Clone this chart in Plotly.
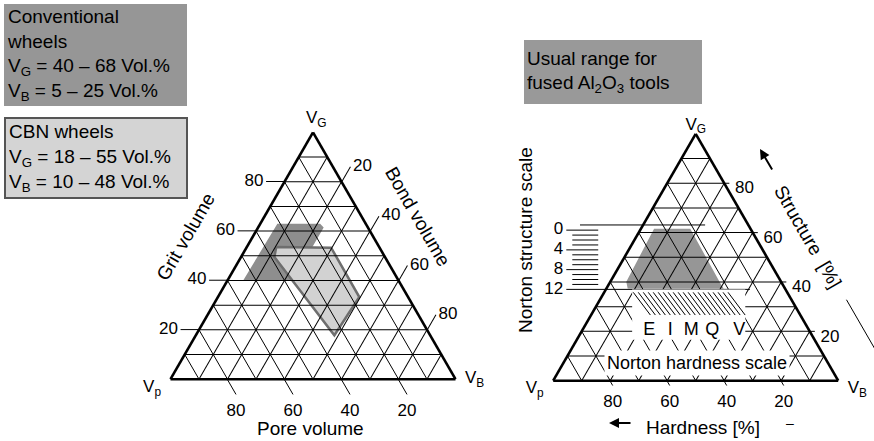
import math
import plotly.graph_objects as go

FIG_W, FIG_H = 874, 441
FONT = "Liberation Sans, Arial, Helvetica, sans-serif"

# ---------------- data ----------------
GRID_VALUES = [10, 20, 30, 40, 50, 60, 70, 80, 90]
TICK_VALUES = [20, 40, 60, 80]

# left diagram: grit (V_G, top), pore (V_p, bottom-left), bond (V_B, bottom-right), vol.%
CONV_GRIT = [63, 63, 61.5, 55, 40, 40]          # conventional wheels region
CONV_BOND = [6, 21, 23, 23, 23, 5.5]
CBN_GRIT = [53.6, 53.3, 33.3, 17.8, 49.5]        # CBN wheels region
CBN_BOND = [10.3, 29.7, 49.6, 48.6, 11.7]

# right diagram: usual range for fused Al2O3 tools
ALO_GRIT = [61.6, 61.6, 39.7, 37.3, 37.3, 40.1]
ALO_BOND = [4.6, 17.3, 38.7, 41.2, 7.5, 5.6]

# Norton structure scale (structure number -> grit vol.%)
NORTON_STRUCT = [0, 1, 2, 3, 4, 5, 6, 7, 8, 9, 10, 11, 12]
NORTON_STRUCT_GRIT = [61, 59, 57, 55, 53, 51, 49, 47, 45, 43, 41, 39, 37]
NORTON_STRUCT_LABELED = [0, 4, 8, 12]

# Norton hardness scale letters (position along base in %, at grit level)
HARD_LETTERS = ["E", "I", "M", "Q", "V"]
HARD_POS = [33.7, 41.1, 48.4, 55.8, 65.3]
HARD_GRIT = 20.3

# ---------------- geometry ----------------
SQ3_2 = math.sqrt(3) / 2
L_X0, L_X1, L_YB = 170.5, 455.5, 379.2
R_X0, R_X1, R_YB = 553.2, 838.2, 380.7


def tri_domain(x0, x1, yb):
    h = (x1 - x0) * SQ3_2
    return dict(x=[x0 / FIG_W, x1 / FIG_W],
                y=[(FIG_H - yb) / FIG_H, (FIG_H - yb + h) / FIG_H])


def P(x, y):
    return x / FIG_W, 1 - y / FIG_H


def ak_to_abc(a_list, k_list):
    """grit value a and horizontal position k (percent of base) -> a, b, c"""
    a_out, b_out, c_out = [], [], []
    for a, k in zip(a_list, k_list):
        if a is None:
            a_out.append(None); b_out.append(None); c_out.append(None)
            continue
        c = k - a / 2
        a_out.append(a); c_out.append(c); b_out.append(100 - a - c)
    return a_out, b_out, c_out


def close(lst):
    return list(lst) + [lst[0]]


LD = tri_domain(L_X0, L_X1, L_YB)
RD = tri_domain(R_X0, R_X1, R_YB)


def ax_off():
    return dict(showline=False, showgrid=False, showticklabels=False, ticks="",
                title=dict(text=""))


def ax_grid():
    return dict(showline=True, linecolor="black", linewidth=2.6,
                showgrid=True, gridcolor="black", gridwidth=1,
                tickvals=GRID_VALUES, showticklabels=False, ticks="",
                title=dict(text=""))


def ax_ticks(ticklen):
    return dict(showline=False, showgrid=False, tickvals=TICK_VALUES,
                ticktext=[str(v) for v in TICK_VALUES], ticks="outside",
                ticklen=ticklen, tickwidth=1, tickcolor="black",
                tickfont=dict(family=FONT, size=17, color="black"),
                title=dict(text=""))


traces = []

# ---- left: regions ----
traces.append(go.Scatterternary(
    subplot="ternary", a=close(CONV_GRIT),
    b=close([100 - g - v for g, v in zip(CONV_GRIT, CONV_BOND)]), c=close(CONV_BOND),
    mode="lines", fill="toself", fillcolor="#8e8e8e", line=dict(width=0, color="#8e8e8e"),
    hoverinfo="skip"))
traces.append(go.Scatterternary(
    subplot="ternary", a=close(CBN_GRIT),
    b=close([100 - g - v for g, v in zip(CBN_GRIT, CBN_BOND)]), c=close(CBN_BOND),
    mode="lines", fill="toself", fillcolor="#d2d2d2", line=dict(width=2.5, color="#6e6e6e"),
    hoverinfo="skip"))

# ---- left: corner labels (grid layer) ----
corner_font = dict(family=FONT, size=17, color="black")
traces.append(go.Scatterternary(subplot="ternary2", a=[0], b=[100], c=[0], mode="text",
                                text=["V<sub>p</sub>  "], textposition="bottom left",
                                textfont=corner_font, cliponaxis=False, hoverinfo="skip"))
traces.append(go.Scatterternary(subplot="ternary2", a=[0], b=[0], c=[100], mode="text",
                                text=["  V<sub>B</sub>"], textposition="middle right",
                                textfont=corner_font, cliponaxis=False, hoverinfo="skip"))

# ---- right: region ----
traces.append(go.Scatterternary(
    subplot="ternary3", a=close(ALO_GRIT),
    b=close([100 - g - v for g, v in zip(ALO_GRIT, ALO_BOND)]), c=close(ALO_BOND),
    mode="lines", fill="toself", fillcolor="#969696", line=dict(width=0, color="#969696"),
    hoverinfo="skip"))

# ---- right: corner labels ----
traces.append(go.Scatterternary(subplot="ternary4", a=[100], b=[0], c=[0], mode="text",
                                text=["V<sub>G</sub>"], textposition="top center",
                                textfont=corner_font, cliponaxis=False, hoverinfo="skip"))
traces.append(go.Scatterternary(subplot="ternary4", a=[0], b=[100], c=[0], mode="text",
                                text=["V<sub>p</sub>  "], textposition="bottom left",
                                textfont=corner_font, cliponaxis=False, hoverinfo="skip"))
traces.append(go.Scatterternary(subplot="ternary4", a=[0], b=[0], c=[100], mode="text",
                                text=["  V<sub>B</sub>"], textposition="bottom right",
                                textfont=corner_font, cliponaxis=False, hoverinfo="skip"))

# ---- right: mask, hatching, hardness letters (top layer) ----
MASK_GRIT = [36.9, 36.9, 16.6, 16.6]
MASK_POS = [27.7, 67.4, 67.4, 27.7]
ma, mb, mc = ak_to_abc(close(MASK_GRIT), close(MASK_POS))
traces.append(go.Scatterternary(subplot="ternary5", a=ma, b=mb, c=mc, mode="lines",
                                fill="toself", fillcolor="white",
                                line=dict(width=0, color="white"), hoverinfo="skip"))

HATCH_TOP, HATCH_BOT = 35.8, 26.6
HATCH_START, HATCH_STEP, HATCH_N, HATCH_SLANT = 28.1, 1.75, 20, 6.0
ha, hk = [], []
for i in range(HATCH_N):
    k0 = HATCH_START + HATCH_STEP * i
    ha += [HATCH_TOP, HATCH_BOT, None]
    hk += [k0, k0 + HATCH_SLANT, None]
ha2, hb2, hc2 = ak_to_abc(ha, hk)
traces.append(go.Scatterternary(subplot="ternary5", a=ha2, b=hb2, c=hc2, mode="lines",
                                line=dict(width=1, color="black"), connectgaps=False,
                                hoverinfo="skip"))
la, lb, lc = ak_to_abc([HARD_GRIT] * len(HARD_POS), HARD_POS)
traces.append(go.Scatterternary(subplot="ternary5", a=la, b=lb, c=lc, mode="text",
                                text=HARD_LETTERS, textposition="middle center",
                                textfont=dict(family=FONT, size=18, color="black"),
                                cliponaxis=False, hoverinfo="skip"))

# ---- right: marks outside the triangle, on a cartesian (position k, grit a) frame ----
R_W = R_X1 - R_X0
R_H = R_W * SQ3_2
K_RANGE = [(0 - R_X0) / R_W * 100, (FIG_W - R_X0) / R_W * 100]
A_RANGE = [(R_YB - FIG_H) / R_H * 100, (R_YB - 0) / R_H * 100]

cx, cy = [], []
for n, g in zip(NORTON_STRUCT, NORTON_STRUCT_GRIT):
    k_left = 4.6 if n in NORTON_STRUCT_LABELED else 6.7
    k_right = 69.0 if n == 12 else 15.8
    cx += [k_left, k_right, None]
    cy += [g, g, None]
# top reference line of the structure scale
cx += [9.4, 53.3, None]
cy += [63.1, 63.1, None]
# short ticks on the right edge (grit)
for v in TICK_VALUES:
    cx += [100 - v / 2, 100 - v / 2 + 1.8, None]
    cy += [v, v, None]
# structure direction line beyond the right edge
cx += [119.3 - 32.8 / 2, 119.3 - 5 / 2, None]
cy += [32.8, 5, None]
traces.append(go.Scatter(x=cx, y=cy, mode="lines", line=dict(color="black", width=1),
                         xaxis="x", yaxis="y", hoverinfo="skip", connectgaps=False))

traces.append(go.Scatter(
    x=[3.5] * len(NORTON_STRUCT_LABELED),
    y=[NORTON_STRUCT_GRIT[NORTON_STRUCT.index(n)] for n in NORTON_STRUCT_LABELED],
    mode="text", text=[str(n) for n in NORTON_STRUCT_LABELED], textposition="middle left",
    textfont=dict(family=FONT, size=17, color="black"), xaxis="x", yaxis="y",
    hoverinfo="skip"))
traces.append(go.Scatter(
    x=[100 - v / 2 + 3.8 for v in TICK_VALUES], y=[v - 2.4 for v in TICK_VALUES],
    mode="text", text=[str(v) for v in TICK_VALUES], textposition="middle right",
    textfont=dict(family=FONT, size=17, color="black"), xaxis="x", yaxis="y",
    hoverinfo="skip"))

fig = go.Figure(traces)

txt = dict(family=FONT, size=19, color="black")
ann = []


def box(x0, y0, x1, y1, text, bg, bw=0, bc="rgba(0,0,0,0)", pad=3):
    ax, ay = P(x0, y0)
    full = bw + pad
    ann.append(dict(x=ax, y=ay, xref="paper", yref="paper", xanchor="left", yanchor="top",
                    text=text, showarrow=False, align="left", valign="middle",
                    width=(x1 - x0) - 2 * full, height=(y1 - y0) - 2 * full,
                    bgcolor=bg, bordercolor=bc, borderwidth=bw, borderpad=pad, font=txt))


box(4, 4, 187, 106,
    "Conventional<br>wheels<br>V<sub>G</sub> = 40 – 68 Vol.%<br>V<sub>B</sub> = 5 – 25 Vol.%",
    "#969696")
box(4, 117, 188, 199,
    "CBN wheels<br>V<sub>G</sub> = 18 – 55 Vol.%<br>V<sub>B</sub> = 10 – 48 Vol.%",
    "#d4d4d4", bw=2, bc="#555555")
box(524, 40, 702, 104, "Usual range for<br>fused Al<sub>2</sub>O<sub>3</sub> tools", "#999999")


def label(x, y, text, angle=0, size=19, **kw):
    px, py = P(x, y)
    d = dict(x=px, y=py, xref="paper", yref="paper", text=text, showarrow=False,
             textangle=angle, font=dict(family=FONT, size=size, color="black"),
             xanchor="center", yanchor="middle")
    d.update(kw)
    ann.append(d)


label(316, 119, "V<sub>G</sub>", size=17)
label(185, 237, "Grit volume", angle=-60)
label(418, 216, "Bond volume", angle=60)
label(310, 428, "Pore volume")
label(525, 240, "Norton structure scale", angle=-90)
label(808, 236, "Structure  [%]", angle=60)
label(697, 363, "Norton hardness scale", size=18, bgcolor="white", borderpad=2)
label(703, 427, "Hardness [%]")
label(790, 423, "–", size=14)

for (hx, hy, tx, ty) in [(760, 149, 773, 171), (609, 423, 632, 423)]:
    px, py = P(hx, hy)
    ann.append(dict(x=px, y=py, xref="paper", yref="paper", text="", showarrow=True,
                    ax=tx - hx, ay=ty - hy, arrowhead=2, arrowsize=1, arrowwidth=2,
                    arrowcolor="black"))

fig.update_layout(
    template="none",
    width=FIG_W, height=FIG_H, margin=dict(l=0, r=0, t=0, b=0),
    paper_bgcolor="white", plot_bgcolor="rgba(0,0,0,0)", showlegend=False,
    font=dict(family=FONT, color="black"),
    ternary=dict(domain=LD, sum=100, bgcolor="white",
                 aaxis=ax_ticks(18), baxis=ax_ticks(17), caxis=ax_ticks(17)),
    ternary2=dict(domain=LD, sum=100, bgcolor="rgba(0,0,0,0)",
                  aaxis=ax_grid(), baxis=ax_grid(), caxis=ax_grid()),
    ternary3=dict(domain=RD, sum=100, bgcolor="rgba(0,0,0,0)",
                  aaxis=ax_off(), baxis=ax_ticks(5), caxis=ax_off()),
    ternary4=dict(domain=RD, sum=100, bgcolor="rgba(0,0,0,0)",
                  aaxis=ax_grid(), baxis=ax_grid(), caxis=ax_grid()),
    ternary5=dict(domain=RD, sum=100, bgcolor="rgba(0,0,0,0)",
                  aaxis=ax_off(), baxis=ax_off(), caxis=ax_off()),
    xaxis=dict(domain=[0, 1], range=K_RANGE, visible=False, fixedrange=True),
    yaxis=dict(domain=[0, 1], range=A_RANGE, visible=False, fixedrange=True),
    annotations=ann,
)

fig.write_html("out.html", config={"displayModeBar": False},
               post_script="document.body.style.margin='0px';")
